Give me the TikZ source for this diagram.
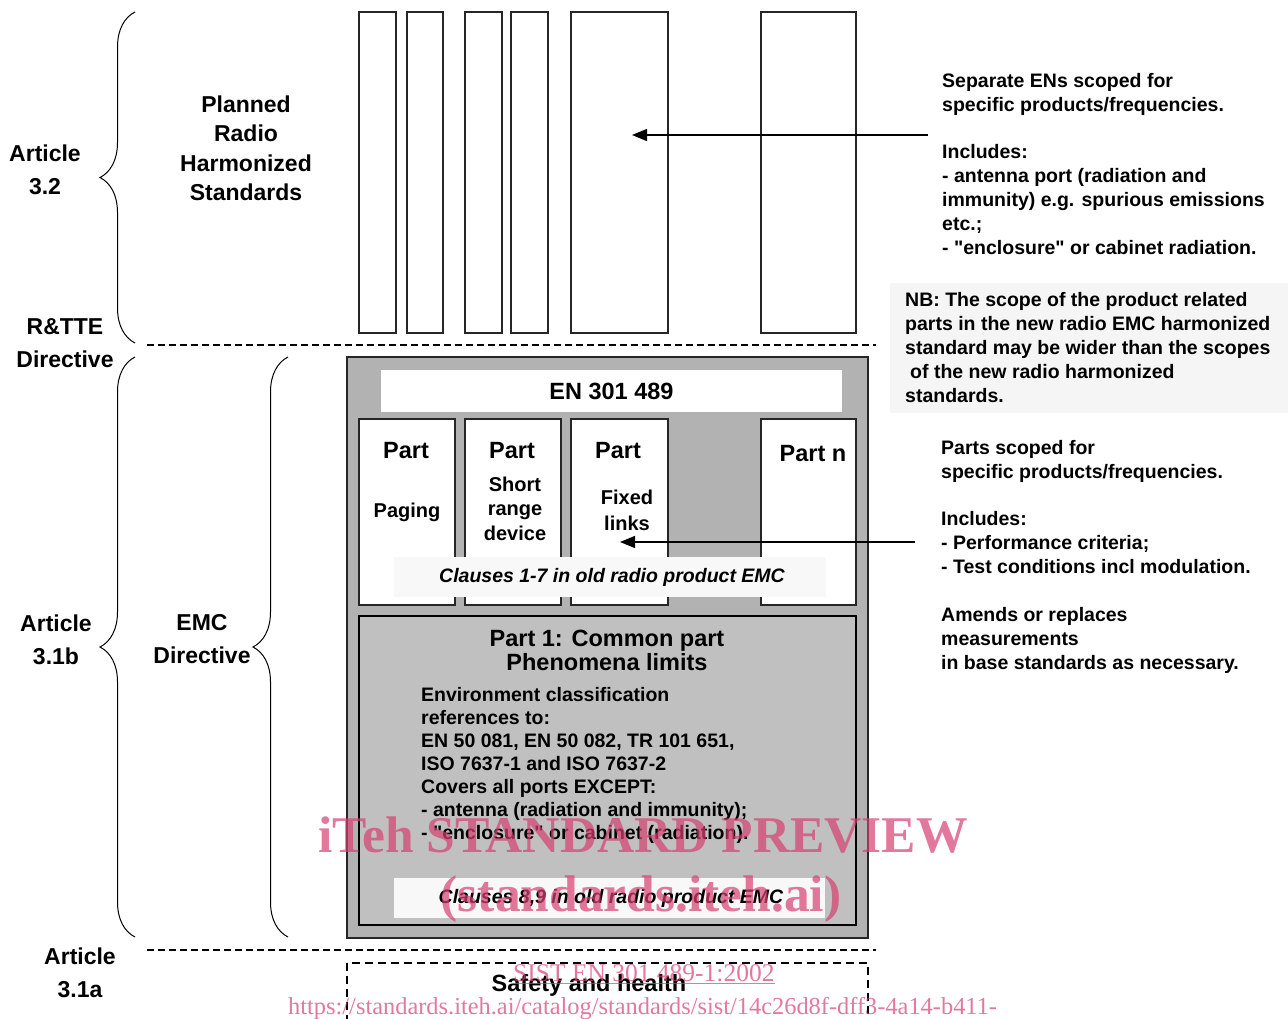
\documentclass[tikz,border=0pt]{standalone}
\usepackage{fontspec}
\setmainfont{Liberation Sans}[Ligatures=TeXOff]
\newfontfamily\wmfont{Liberation Serif}
\usetikzlibrary{arrows.meta,decorations.pathreplacing}
\definecolor{outergray}{RGB}{178,178,178}
\definecolor{innergray}{RGB}{192,192,192}
\definecolor{bandc}{RGB}{248,248,248}
\definecolor{nbfill}{RGB}{245,245,245}
\definecolor{wmc}{RGB}{214,64,112}
\newcommand{\fsz}[2]{\fontsize{#1}{#2}\selectfont}
\begin{document}
\begin{tikzpicture}[x=1pt,y=-1pt,
 tbox/.style={draw=black!85,line width=1.2pt,fill=white,inner sep=0pt,minimum height=321pt},
 pbox/.style={draw=black!85,line width=1.2pt,fill=white,inner sep=0pt,minimum height=186pt},
 lbl/.style={font=\bfseries\fsz{23}{33},align=center,inner sep=0pt,anchor=north},
 hd/.style={font=\bfseries\fsz{23.5}{24},inner sep=0pt,anchor=base},
 sub/.style={font=\bfseries\fsz{20}{24.5},align=center,inner sep=0pt,anchor=north},
 body/.style={font=\bfseries\fsz{19.5}{24},align=left,inner sep=0pt,anchor=north west},
 cl/.style={font=\bfseries\itshape\fsz{19.5}{24},inner sep=0pt,anchor=base},
 bandbox/.style={fill=bandc,inner sep=0pt},
 sepline/.style={line width=1.2pt,dash pattern=on 7pt off 4pt},
 arr/.style={line width=1.4pt,-{Triangle[length=15pt,width=12pt]}},
 brc/.style={line width=1pt,decorate,decoration={brace,amplitude=35pt,aspect=0.5}},
 wm/.style={text=wmc,text opacity=0.7,inner sep=0pt}
]
\useasboundingbox (0,0) rectangle (1288,1018);
\clip (0,0) rectangle (1288,1018);

% ---------- top: planned radio harmonized standards ----------
\node[tbox,minimum width=37pt] (t1) at (377.5,172.5) {};
\node[tbox,minimum width=36pt] (t2) at (425,172.5) {};
\node[tbox,minimum width=37pt] (t3) at (483.5,172.5) {};
\node[tbox,minimum width=37pt] (t4) at (529.5,172.5) {};
\node[tbox,minimum width=97pt] (t5) at (619.5,172.5) {};
\node[tbox,minimum width=95pt] (t6) at (808.5,172.5) {};

\node[lbl,font=\bfseries\fsz{23}{29.5}] (planned) at (246,95.5) {Planned\\Radio\\Harmonized\\Standards};

% ---------- left labels ----------
\node[lbl] (a32) at (45,144.5) {Article\\3.2};
\node[lbl] (rtte) at (65,318.5) {R\&TTE\\Directive};
\node[lbl] (a31b) at (56,614.5) {Article\\3.1b};
\node[lbl] (emc) at (202,614.5) {EMC\\Directive};
\node[lbl] (a31a) at (80,947.5) {Article\\3.1a};

% braces
\draw[brc] (135,343) -- (135,12);
\draw[brc] (135,937) -- (135,357);
\draw[brc] (288,937) -- (288,357);

% dashed separators
\coordinate (s1a) at (147,345); \coordinate (s1b) at (876,345);
\coordinate (s2a) at (147,950); \coordinate (s2b) at (876,950);
\draw[sepline] (s1a) -- (s1b);
\draw[sepline] (s2a) -- (s2b);

% ---------- EN 301 489 ----------
\node[draw=black!85,line width=1.4pt,fill=outergray,inner sep=0pt,minimum width=521pt,minimum height=581pt] (outer) at (607.5,647.5) {};
\node[fill=white,inner sep=0pt,minimum width=461pt,minimum height=42pt] (enbox) at (611.5,391) {};
\node[hd] (entxt) at (611.5,399.5) {EN 301 489};

\node[pbox,minimum width=96pt] (p1) at (407,512) {};
\node[pbox,minimum width=96pt] (p2) at (513,512) {};
\node[pbox,minimum width=97pt] (p3) at (619.5,512) {};
\node[pbox,minimum width=95pt] (pn) at (808.5,512) {};

\node[hd] (p1h) at (406,458) {Part};
\node[hd] (p2h) at (512,458) {Part};
\node[hd] (p3h) at (618,458) {Part};
\node[hd] (pnh) at (813,461) {Part n};
\node[sub,anchor=base] (p1s) at (407,517) {Paging};
\node[sub] (p2s) at (515,476.5) {Short\\range\\device};
\node[sub,font=\bfseries\fsz{20}{26}] (p3s) at (627,489.5) {Fixed\\links};

\node[bandbox,minimum width=432pt,minimum height=40pt] (band1) at (610,577) {};
\node[cl] (cl1) at (612,582) {Clauses 1-7 in old radio product EMC};

\node[draw=black,line width=1.3pt,fill=innergray,inner sep=0pt,minimum width=497pt,minimum height=309pt] (part1) at (607.5,770.5) {};
\node[font=\bfseries\fsz{23.5}{24},align=center,inner sep=0pt,anchor=north] (p1t) at (607,630) {Part 1: Common part\\Phenomena limits};
\node[body,font=\bfseries\fsz{19.5}{23}] (p1b) at (421,687) {Environment classification\\references to:\\EN 50 081, EN 50 082, TR 101 651,\\ISO 7637-1 and ISO 7637-2\\Covers all ports EXCEPT:\\- antenna (radiation and immunity);\\- "enclosure" or cabinet (radiation).};
\node[bandbox,minimum width=431pt,minimum height=40pt] (band2) at (609.5,898) {};
\node[cl] (cl2) at (611,903) {Clauses 8,9 in old radio product EMC};

% ---------- safety and health ----------
\draw[line width=1.8pt,dash pattern=on 8pt off 5pt] (347,963) rectangle (868,1040);
\node[hd] (safety) at (589,991.5) {Safety and health};

% ---------- right texts ----------
\node[body] (r1) at (942,73) {Separate ENs scoped for\\specific products/frequencies.};
\node[body] (r2) at (942,144) {Includes:\\- antenna port (radiation and\\immunity) e.g. spurious emissions\\etc.;\\- "enclosure" or cabinet radiation.};
\node[fill=nbfill,inner sep=0pt,minimum width=398pt,minimum height=130pt,anchor=north west] (nb) at (890,283) {};
\node[body] (nbt) at (905,292) {NB: The scope of the product related\\parts in the new radio EMC harmonized\\standard may be wider than the scopes\\\hspace*{5pt}of the new radio harmonized\\standards.};
\node[body] (r3) at (941,440) {Parts scoped for\\specific products/frequencies.};
\node[body] (r4) at (941,511) {Includes:\\- Performance criteria;\\- Test conditions incl modulation.};
\node[body] (r5) at (941,607) {Amends or replaces\\measurements\\in base standards as necessary.};

% arrows
\coordinate (a1s) at (928,135); \coordinate (a1e) at (632,135);
\coordinate (a2s) at (915,542); \coordinate (a2e) at (620,542);
\draw[arr] (a1s) -- (a1e);
\draw[arr] (a2s) -- (a2e);

% ---------- watermark ----------
\node[wm,font=\wmfont\bfseries\fsz{51.5}{51.5},anchor=base west] (w1) at (318,852) {iTeh STANDARD PREVIEW};
\node[wm,font=\wmfont\bfseries\fsz{51.5}{51.5},anchor=base] (w2) at (641,911) {(standards.iteh.ai)};
\node[wm,font=\wmfont\fsz{25.5}{25.5},anchor=base west] (w3) at (513,981) {\underline{SIST EN 301 489-1:2002}};
\node[wm,font=\wmfont\fsz{24.4}{24.4},anchor=base west] (w4) at (288,1014) {https://standards.iteh.ai/catalog/standards/sist/14c26d8f-dff3-4a14-b411-};
\end{tikzpicture}
\end{document}
